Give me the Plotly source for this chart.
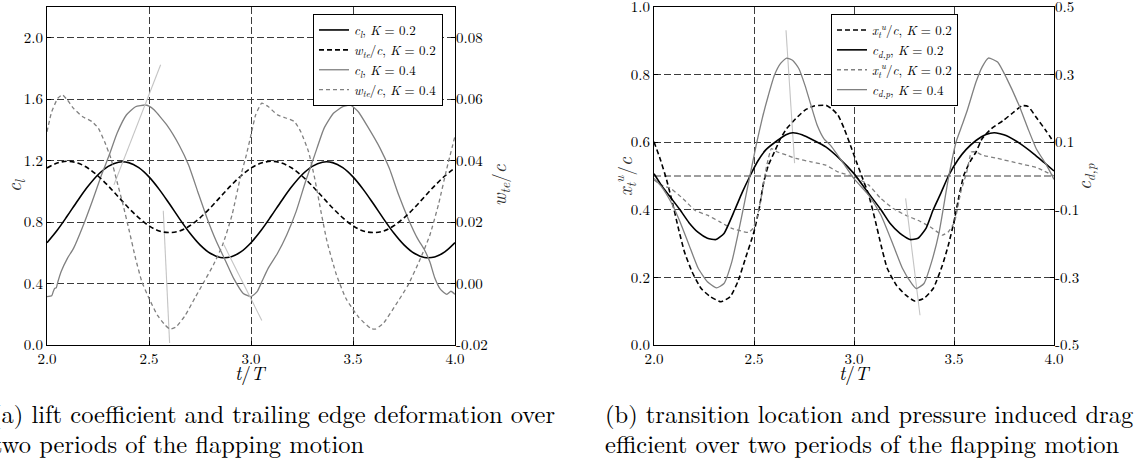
import plotly.graph_objects as go

# ---------------- data: panel (a) ----------------
t_a = [2.00, 2.05, 2.10, 2.15, 2.20, 2.25, 2.30, 2.35, 2.40, 2.45, 2.50, 2.55, 2.60, 2.65, 2.70,
       2.75, 2.80, 2.85, 2.90, 2.95, 3.00, 3.05, 3.10, 3.15, 3.20, 3.25, 3.30, 3.35, 3.40, 3.45,
       3.50, 3.55, 3.60, 3.65, 3.70, 3.75, 3.80, 3.85, 3.90, 3.95, 4.00]
cl_k02 = [0.666, 0.747, 0.841, 0.939, 1.031, 1.108, 1.163, 1.190, 1.187, 1.154, 1.094, 1.013, 0.919,
          0.821, 0.729, 0.652, 0.597, 0.570, 0.573, 0.606, 0.666, 0.747, 0.841, 0.939, 1.031, 1.108,
          1.163, 1.190, 1.187, 1.154, 1.094, 1.013, 0.919, 0.821, 0.729, 0.652, 0.597, 0.570, 0.573,
          0.606, 0.666]
wte_k02 = [0.0376, 0.0392, 0.0398, 0.0392, 0.0376, 0.0350, 0.0318, 0.0282, 0.0246, 0.0214, 0.0188,
           0.0171, 0.0166, 0.0171, 0.0188, 0.0214, 0.0246, 0.0282, 0.0318, 0.0350, 0.0376, 0.0392,
           0.0398, 0.0392, 0.0376, 0.0350, 0.0318, 0.0282, 0.0246, 0.0214, 0.0188, 0.0171, 0.0166,
           0.0171, 0.0188, 0.0214, 0.0246, 0.0282, 0.0318, 0.0350, 0.0376]

t_cl_k04 = [2.0, 2.023, 2.03, 2.038, 2.045, 2.053, 2.069, 2.10, 2.13, 2.175, 2.221, 2.267, 2.305, 2.343,
            2.389, 2.434, 2.48, 2.50, 2.526, 2.587, 2.648, 2.694, 2.739, 2.785, 2.831, 2.877, 2.915,
            2.962, 3.0, 3.03, 3.053, 3.084, 3.13, 3.175, 3.221, 3.267, 3.312, 3.358, 3.404, 3.45,
            3.488, 3.526, 3.572, 3.633, 3.678, 3.724, 3.77, 3.816, 3.85, 3.877, 3.90, 3.93, 3.96,
            3.98, 4.0]
cl_k04 = [0.315, 0.32, 0.345, 0.369, 0.372, 0.41, 0.477, 0.564, 0.629, 0.77, 0.933, 1.106, 1.236, 1.377,
          1.497, 1.551, 1.562, 1.555, 1.529, 1.432, 1.30, 1.171, 0.998, 0.824, 0.672, 0.542, 0.434,
          0.336, 0.315, 0.347, 0.412, 0.499, 0.597, 0.716, 0.868, 1.063, 1.236, 1.41, 1.508, 1.551,
          1.562, 1.518, 1.421, 1.28, 1.15, 0.976, 0.824, 0.694, 0.62, 0.54, 0.44, 0.36, 0.33, 0.35, 0.33]

t_wte_k04 = [2.0, 2.023, 2.053, 2.076, 2.10, 2.13, 2.175, 2.221, 2.252, 2.282, 2.313, 2.343, 2.373,
             2.404, 2.434, 2.465, 2.50, 2.541, 2.579, 2.602, 2.633, 2.678, 2.724, 2.77, 2.816, 2.861,
             2.907, 2.947, 2.977, 3.0, 3.023, 3.053, 3.084, 3.13, 3.175, 3.213, 3.244, 3.282, 3.312,
             3.343, 3.373, 3.419, 3.465, 3.526, 3.587, 3.61, 3.648, 3.709, 3.77, 3.831, 3.877, 3.92,
             3.96, 4.0]
wte_k04 = [0.0494, 0.0559, 0.0603, 0.0614, 0.0597, 0.0570, 0.0543, 0.0527, 0.0505, 0.0462, 0.0408,
           0.0332, 0.0256, 0.0169, 0.0082, 0.0006, -0.0048, -0.0103, -0.0135, -0.0148, -0.0141,
           -0.0103, -0.0048, 0.0006, 0.0061, 0.0126, 0.0223, 0.0343, 0.0418, 0.0484, 0.0549, 0.0587,
           0.0576, 0.0549, 0.0538, 0.0527, 0.0494, 0.0429, 0.0343, 0.0234, 0.0136, 0.0028, -0.0048,
           -0.0108, -0.0146, -0.0148, -0.0130, -0.0070, -0.0005, 0.0082, 0.0158, 0.0260, 0.0375, 0.0480]

# stray thin light-grey segments visible in panel (a) (c_l units)
stray_a_t = [2.328, 2.557, None, 2.570, 2.601, None, 2.867, 3.053]
stray_a_v = [1.042, 1.824, None, 0.874, 0.013, None, 0.652, 0.160]

# ---------------- data: panel (b) ----------------
t_xt_k02 = [2.0, 2.03, 2.061, 2.091, 2.122, 2.152, 2.19, 2.236, 2.282, 2.335, 2.381, 2.419, 2.457, 2.5,
            2.526, 2.549, 2.572, 2.602, 2.633, 2.663, 2.709, 2.755, 2.80, 2.861, 2.89, 2.92, 2.951,
            2.982, 3.012, 3.043, 3.074, 3.104, 3.135, 3.166, 3.212, 3.258, 3.304, 3.35, 3.396, 3.442,
            3.472, 3.5, 3.526, 3.549, 3.58, 3.61, 3.641, 3.687, 3.748, 3.80, 3.84, 3.87, 3.912, 3.96, 4.0]
xt_k02 = [0.601, 0.552, 0.493, 0.424, 0.345, 0.276, 0.217, 0.167, 0.143, 0.128, 0.143, 0.187, 0.256,
          0.335, 0.404, 0.483, 0.532, 0.571, 0.611, 0.64, 0.67, 0.695, 0.707, 0.709, 0.698, 0.68, 0.64,
          0.591, 0.542, 0.493, 0.443, 0.374, 0.296, 0.227, 0.177, 0.148, 0.13, 0.138, 0.167, 0.236,
          0.296, 0.365, 0.443, 0.502, 0.542, 0.571, 0.611, 0.64, 0.665, 0.69, 0.708, 0.706, 0.673,
          0.634, 0.599]

t_cdp_k02 = [2.0, 2.04, 2.085, 2.13, 2.175, 2.221, 2.267, 2.31, 2.35, 2.404, 2.44, 2.48, 2.52, 2.56,
             2.617, 2.66, 2.694, 2.74, 2.80, 2.859, 2.93, 3.0, 3.065, 3.135, 3.18, 3.23, 3.28, 3.32,
             3.36, 3.396, 3.435, 3.472, 3.52, 3.56, 3.61, 3.66, 3.702, 3.76, 3.825, 3.90, 3.95, 4.0]
cdp_k02 = [0.007, -0.030, -0.065, -0.100, -0.138, -0.167, -0.184, -0.188, -0.170, -0.100, -0.050,
           0.000, 0.045, 0.078, 0.105, 0.122, 0.128, 0.122, 0.105, 0.086, 0.050, 0.007, -0.045,
           -0.100, -0.140, -0.170, -0.188, -0.184, -0.155, -0.100, -0.050, 0.000, 0.048, 0.078,
           0.105, 0.123, 0.128, 0.120, 0.098, 0.065, 0.040, 0.015]

t_xt_k04 = [2.0, 2.038, 2.084, 2.145, 2.206, 2.267, 2.328, 2.389, 2.45, 2.473, 2.495, 2.518, 2.541,
            2.564, 2.587, 2.617, 2.663, 2.709, 2.785, 2.859, 2.92, 3.0, 3.074, 3.135, 3.196, 3.258,
            3.319, 3.38, 3.442, 3.472, 3.503, 3.534, 3.564, 3.587, 3.61, 3.641, 3.718, 3.825, 3.912, 4.0]
xt_k04 = [0.488, 0.473, 0.463, 0.433, 0.398, 0.384, 0.365, 0.345, 0.335, 0.333, 0.345, 0.384, 0.453,
          0.532, 0.581, 0.571, 0.562, 0.552, 0.542, 0.532, 0.512, 0.498, 0.473, 0.433, 0.404, 0.384,
          0.369, 0.35, 0.325, 0.335, 0.365, 0.453, 0.512, 0.571, 0.571, 0.562, 0.552, 0.537, 0.525, 0.50]

t_cdp_k04 = [2.0, 2.038, 2.084, 2.13, 2.175, 2.221, 2.267, 2.312, 2.35, 2.389, 2.419, 2.45, 2.48, 2.511,
             2.541, 2.572, 2.602, 2.633, 2.663, 2.694, 2.724, 2.755, 2.785, 2.816, 2.85, 2.884, 2.95,
             3.0, 3.074, 3.135, 3.196, 3.242, 3.288, 3.311, 3.35, 3.388, 3.426, 3.472, 3.51, 3.54,
             3.564, 3.61, 3.641, 3.672, 3.718, 3.764, 3.825, 3.87, 3.912, 3.96, 4.0]
cdp_k04 = [-0.007, -0.032, -0.076, -0.135, -0.204, -0.273, -0.313, -0.331, -0.318, -0.254, -0.175,
           -0.086, 0.002, 0.091, 0.170, 0.239, 0.298, 0.333, 0.349, 0.342, 0.318, 0.268, 0.209, 0.150,
           0.110, 0.090, 0.035, -0.008, -0.057, -0.116, -0.204, -0.273, -0.318, -0.333, -0.318,
           -0.254, -0.165, -0.007, 0.100, 0.150, 0.190, 0.278, 0.323, 0.349, 0.337, 0.288, 0.209,
           0.140, 0.080, 0.035, -0.010]

# stray thin light-grey segments visible in panel (b) (x_t/c units)
stray_b_t = [2.660, 2.703, None, 3.258, 3.330]
stray_b_v = [0.931, 0.538, None, 0.434, 0.088]

x_ticks = [2.0, 2.5, 3.0, 3.5, 4.0]
cl_ticks = [0.0, 0.4, 0.8, 1.2, 1.6, 2.0]
wte_ticks = [-0.02, 0.00, 0.02, 0.04, 0.06, 0.08]
xt_ticks = [0.0, 0.2, 0.4, 0.6, 0.8, 1.0]
cdp_ticks = [-0.5, -0.3, -0.1, 0.1, 0.3, 0.5]

# ---------------- figure ----------------
W, H = 1139, 465
FONT = "Latin Modern Roman"
BLACK = "#000000"
GREY = "#808080"
LIGHT = "#c4c4c4"
GRIDC = "#3c3c3c"


def px_x(p):
    return p / W


def px_y(p):
    return 1 - p / H


ya_dom = [px_y(345), px_y(7)]
xa_dom = [px_x(47), px_x(455)]
xb_dom = [px_x(654), px_x(1054)]

fig = go.Figure()

# panel (a)
fig.add_trace(go.Scatter(x=t_a, y=cl_k02, mode="lines", line=dict(color=BLACK, width=1.6, shape="spline"),
                         name="<i>c<sub>l</sub></i>, <i>K</i> = 0.2", xaxis="x", yaxis="y", legend="legend"))
fig.add_trace(go.Scatter(x=t_a, y=wte_k02, mode="lines",
                         line=dict(color=BLACK, width=1.6, dash="5px,3px", shape="spline"),
                         name="<i>w<sub>te</sub></i>/<i>c</i>, <i>K</i> = 0.2", xaxis="x", yaxis="y2",
                         legend="legend"))
fig.add_trace(go.Scatter(x=t_cl_k04, y=cl_k04, mode="lines",
                         line=dict(color=GREY, width=1.3, shape="spline", smoothing=0.5),
                         name="<i>c<sub>l</sub></i>, <i>K</i> = 0.4", xaxis="x", yaxis="y", legend="legend"))
fig.add_trace(go.Scatter(x=t_wte_k04, y=wte_k04, mode="lines",
                         line=dict(color=GREY, width=1.3, dash="4px,3px", shape="spline", smoothing=0.5),
                         name="<i>w<sub>te</sub></i>/<i>c</i>, <i>K</i> = 0.4", xaxis="x", yaxis="y2",
                         legend="legend"))
fig.add_trace(go.Scatter(x=stray_a_t, y=stray_a_v, mode="lines", line=dict(color=LIGHT, width=1.1),
                         showlegend=False, xaxis="x", yaxis="y", connectgaps=False))

# panel (b)
fig.add_trace(go.Scatter(x=t_xt_k02, y=xt_k02, mode="lines",
                         line=dict(color=BLACK, width=1.6, dash="5px,3px", shape="spline", smoothing=0.5),
                         name="<i>x<sub>t</sub><sup>u</sup></i>/<i>c</i>, <i>K</i> = 0.2", xaxis="x2",
                         yaxis="y3", legend="legend2"))
fig.add_trace(go.Scatter(x=t_cdp_k02, y=cdp_k02, mode="lines",
                         line=dict(color=BLACK, width=1.6, shape="spline", smoothing=0.5),
                         name="<i>c<sub>d,p</sub></i>, <i>K</i> = 0.2", xaxis="x2", yaxis="y4",
                         legend="legend2"))
fig.add_trace(go.Scatter(x=t_xt_k04, y=xt_k04, mode="lines",
                         line=dict(color=GREY, width=1.3, dash="4px,3px", shape="spline", smoothing=0.4),
                         name="<i>x<sub>t</sub><sup>u</sup></i>/<i>c</i>, <i>K</i> = 0.2", xaxis="x2",
                         yaxis="y3", legend="legend2"))
fig.add_trace(go.Scatter(x=t_cdp_k04, y=cdp_k04, mode="lines",
                         line=dict(color=GREY, width=1.3, shape="spline", smoothing=0.5),
                         name="<i>c<sub>d,p</sub></i>, <i>K</i> = 0.4", xaxis="x2", yaxis="y4",
                         legend="legend2"))
fig.add_trace(go.Scatter(x=stray_b_t, y=stray_b_v, mode="lines", line=dict(color=LIGHT, width=1.1),
                         showlegend=False, xaxis="x2", yaxis="y3", connectgaps=False))

tickfont = dict(family=FONT, size=15, color=BLACK)
common = dict(showline=True, linecolor=BLACK, linewidth=1, mirror=True, ticks="inside", ticklen=4,
              tickcolor=BLACK, tickfont=tickfont, zeroline=False, ticklabeloverflow="allow",
              automargin=False)
grid = dict(showgrid=True, gridcolor=GRIDC, gridwidth=1, griddash="7px,3px")
right_common = dict(showgrid=False, showline=False, ticks="inside", ticklen=4, tickcolor=BLACK,
                    tickfont=tickfont, zeroline=False, ticklabeloverflow="allow", automargin=False)

leg_common = dict(xanchor="left", yanchor="top", bgcolor="white", bordercolor=BLACK, borderwidth=1,
                  font=dict(family=FONT, size=13, color=BLACK), tracegroupgap=0, itemwidth=30)

fig.update_layout(
    width=W, height=H, autosize=False, margin=dict(l=0, r=0, t=0, b=0, autoexpand=False),
    paper_bgcolor="white", plot_bgcolor="white",
    xaxis=dict(domain=xa_dom, range=[2, 4], anchor="y", tickvals=x_ticks,
               ticktext=[f"{v:.1f}" for v in x_ticks], **common, **grid),
    yaxis=dict(domain=ya_dom, range=[0, 2.2], anchor="x", tickvals=cl_ticks,
               ticktext=[f"{v:.1f}" for v in cl_ticks], **common, **grid),
    yaxis2=dict(range=[-0.02, 0.09], overlaying="y", side="right", anchor="x", tickvals=wte_ticks,
                ticktext=[f"{v:.2f}" for v in wte_ticks], **right_common),
    xaxis2=dict(domain=xb_dom, range=[2, 4], anchor="y3", tickvals=x_ticks,
                ticktext=[f"{v:.1f}" for v in x_ticks], **common, **grid),
    yaxis3=dict(domain=ya_dom, range=[0, 1.0], anchor="x2", tickvals=xt_ticks,
                ticktext=[f"{v:.1f}" for v in xt_ticks], **common, **grid),
    yaxis4=dict(range=[-0.5, 0.5], overlaying="y3", side="right", anchor="x2", tickvals=cdp_ticks,
                ticktext=[f"{v:.1f}" for v in cdp_ticks], **right_common),
    legend=dict(x=px_x(313), y=px_y(14), **leg_common),
    legend2=dict(x=px_x(831), y=px_y(14), **leg_common),
    showlegend=True,
)

# extra dashed reference line at c_dp = 0 in panel (b)
fig.add_shape(type="line", xref="x2", yref="y4", x0=2, x1=4, y0=0, y1=0,
              line=dict(color=GRIDC, width=1, dash="7px,3px"), layer="below")

ann_font = dict(family=FONT, size=19, color=BLACK)
lab_font = dict(family=FONT, size=19, color="#333333")
annots = [
    dict(text="<i>t</i>/<i>T</i>", x=px_x(251), y=px_y(372), font=ann_font),
    dict(text="<i>t</i>/<i>T</i>", x=px_x(855), y=px_y(372), font=ann_font),
    dict(text="<i>c<sub>l</sub></i>", x=px_x(14), y=px_y(185), textangle=-90, font=lab_font),
    dict(text="<i>w<sub>te</sub></i>/<i>c</i>", x=px_x(499), y=px_y(185), textangle=-90, font=lab_font),
    dict(text="<i>x<sub>t</sub><sup>u</sup></i>/<i>c</i>", x=px_x(624), y=px_y(177), textangle=-90,
         font=lab_font),
    dict(text="<i>c<sub>d,p</sub></i>", x=px_x(1084), y=px_y(177), textangle=-90, font=lab_font),
]
cap_font = dict(family=FONT, size=24.5, color=BLACK)
captions = [
    dict(text="(a) lift coefficient and trailing edge deformation over", x=px_x(-10), y=px_y(412)),
    dict(text="two periods of the flapping motion", x=px_x(-9), y=px_y(442)),
    dict(text="(b) transition location and pressure induced drag co-", x=px_x(603), y=px_y(412)),
    dict(text="efficient over two periods of the flapping motion", x=px_x(603), y=px_y(442)),
]
for a in annots:
    fig.add_annotation(xref="paper", yref="paper", showarrow=False, xanchor="center", yanchor="middle", **a)
for c in captions:
    fig.add_annotation(xref="paper", yref="paper", showarrow=False, xanchor="left", yanchor="middle",
                       font=cap_font, **c)

fig.write_html("out.html")
